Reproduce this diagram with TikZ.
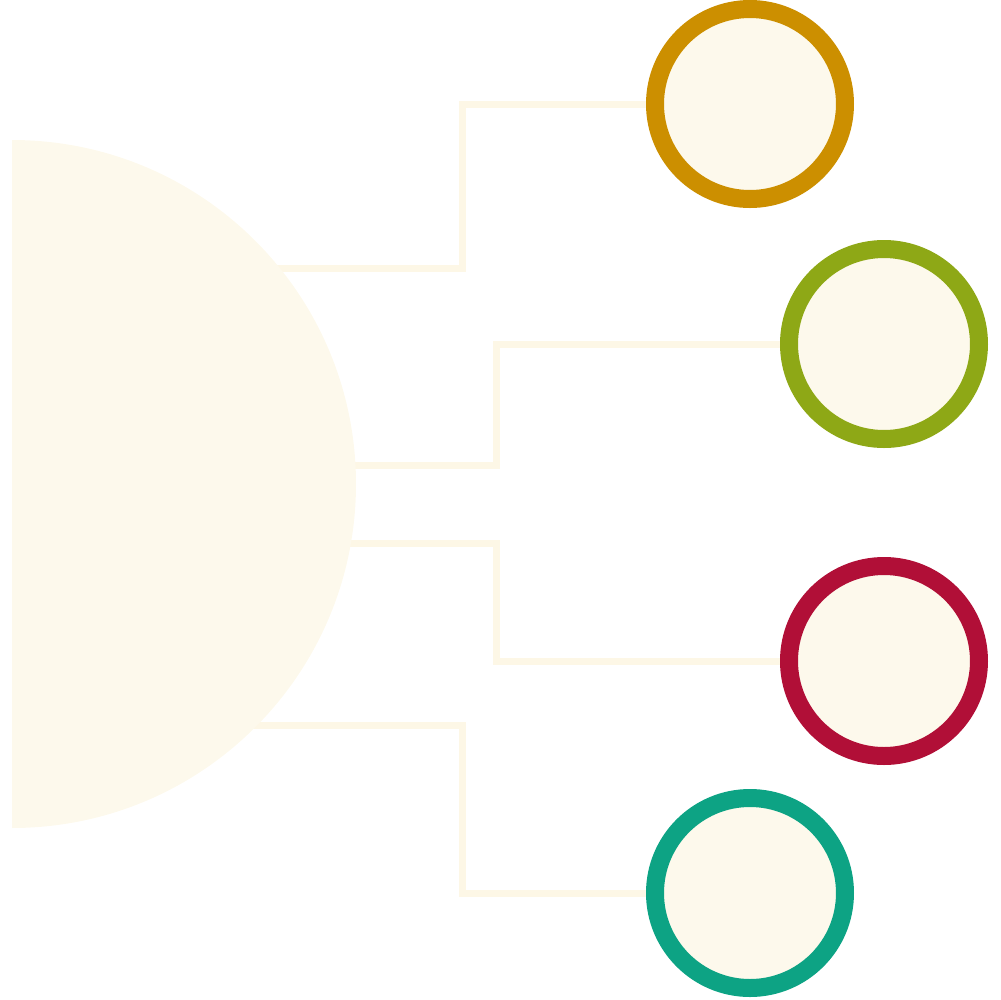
\documentclass[tikz,border=0pt]{standalone}
\usepackage{tikz}
\usetikzlibrary{positioning}

\definecolor{cream}{HTML}{FDF9EC}
\definecolor{creamline}{HTML}{FDF7E6}
\definecolor{ochre}{HTML}{CC8F00}
\definecolor{olive}{HTML}{8EA816}
\definecolor{crimson}{HTML}{B10F37}
\definecolor{teal}{HTML}{0DA384}

\begin{document}
\begin{tikzpicture}[x=0.1mm, y=-0.1mm,
    ring/.style={draw, circle, line width=1.8mm, fill=cream, minimum size=19mm, inner sep=0pt},
    link/.style={draw=creamline, line width=0.7mm}]
    \useasboundingbox (0,0) rectangle (1000,1000);
    % Start points on the hub
    \coordinate (hub1) at (200,268);
    \coordinate (hub2) at (300,465);
    \coordinate (hub3) at (300,543);
    \coordinate (hub4) at (200,725);
    % Bend points
    \coordinate (k1) at (462,268);
    \coordinate (k2) at (496,465);
    \coordinate (k3) at (496,543);
    \coordinate (k4) at (462,725);
    % Ring nodes
    \node[ring, draw=ochre] (c1) at (750,104) {};
    \node[ring, draw=olive] (c2) at (884,344) {};
    \node[ring, draw=crimson] (c3) at (884,661) {};
    \node[ring, draw=teal] (c4) at (750,893) {};
    % Connectors
    \draw[link] (hub1) -- (k1) |- (c1.west);
    \draw[link] (hub2) -- (k2) |- (c2.west);
    \draw[link] (hub3) -- (k3) |- (c3.west);
    \draw[link] (hub4) -- (k4) |- (c4.west);
    % Half disc (hub), over the line ends
    \fill[cream] (12,140) arc[start angle=90, end angle=-90, radius=34.4mm] -- cycle;
\end{tikzpicture}
\end{document}
